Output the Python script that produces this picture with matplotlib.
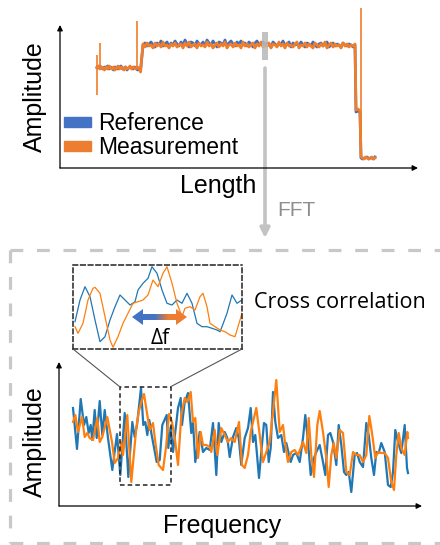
import numpy as np
import matplotlib
matplotlib.use('Agg')
import matplotlib.pyplot as plt
from matplotlib.patches import Rectangle, Polygon, ConnectionPatch, Patch

plt.rcParams['font.family'] = ['Liberation Sans', 'DejaVu Sans']

# ---- top trace (length domain) ----
L1_O = [100,102,99,101,100,98,101,99,102,100,99,101,98,100,102,99,101,100,98,101,99,100,102,99,101,100,99,101,100,96]
L1_B = [101,100,102,100,99,101,100,102,99,101,100,98,101,100,99,101,102,99,100,101,98,100,101,100,99,101,100,98,99,97]
MAIN_O = [124,121,125,122,123,120,125,122,124,121,126,122,123,120,124,122,125,121,123,124,
          120,125,122,126,121,123,124,120,125,122,123,121,126,122,124,120,123,125,121,124,
          122,126,120,123,124,121,125,122,123,120,126,122,124,121,123,125,120,124,122,126,
          121,123,122,125,120,124,123,121,126,122,124,120,125,122,123,121,124,126,120,123,
          122,125,121,124,122,120,125,123,121,124,122,126,120,123,125,121,124,122,123,120,
          125,122,124,121,123,122,124]
MAIN_B = [123,125,122,124,126,123,121,125,123,127,122,124,126,121,125,123,127,124,122,126,
          123,128,124,121,126,125,122,127,124,123,126,122,128,125,123,127,124,121,126,125,
          123,128,122,125,127,124,122,126,124,127,123,125,122,126,124,121,125,127,123,124,
          126,122,125,123,121,126,124,122,125,123,127,122,124,126,121,125,123,124,122,126,
          123,121,125,124,122,126,123,121,124,125,122,124,126,121,123,125,122,124,123,121,
          125,123,122,124,123,121,123]
DROP_X = [296, 298, 300]
DROP_O = [58, 59, 57]
DROP_B = [56, 57, 56]
END_O = [11,10,9,11,10,9,10,11,9,10]
END_B = [10,9,10,10,11,9,10,10,9,11]
SPIKE_LEN = [36.5, 40, 77, 301]
SPIKE_LOW = [73, 101, 100, 10]
SPIKE_HIGH = [113, 125, 147, 160]
WINDOW = (202, 208)

# ---- spectrum (frequency domain) ----
SPEC_BLUE = [(14,98),(18,57),(21.7,107),(25,81),(27.3,89),(29.7,73),(31.7,81),(33.3,66),(35.7,96),(37.7,68),
             (40.7,105),(43.3,71),(45.7,96),(49,68),(53.3,36),(58,72),(61.3,31),(65.7,93),(69.3,29),(73.3,84),
             (75.7,69),(78,81),(82,118),(84.3,81),(86.3,84),(88.3,71),(90.3,86),(92.3,73),(97.7,44),(100.7,46),
             (103.3,81),(107.7,91),(109.3,58),(111.7,79),(114,54),
             (119,98),(121.7,108),(123,81),(125.7,104),(129,113),(132.3,73),(134,84),(136.3,44),(140.7,74),(144,54),
             (147.3,58),(150.7,56),(154,83),(157.3,31),(159.7,83),(162.3,64),(165.7,74),(168.3,68),(170.7,49),(174,69),
             (177.3,78),(179.7,68),(182.3,41),(185.7,68),(189,78),(191.7,98),(194,64),(196.3,71),(200,28),(202.3,54),
             (205,83),(207.3,81),(209.7,44),(211.7,58),(214,114),(216.3,84),(219,68),(222.3,71),(225,54),(227.3,63),
             (231.7,44),(234,51),(237.3,53),(240.7,44),(244,68),(246.3,91),(249,64),(251.7,31),(255,48),(257.3,54),
             (260.7,61),(264,44),(266.3,31),(269,71),(271.3,73),(274,64),(277.3,41),(279.7,81),(282.3,61),(285,34),
             (287.3,31),(289.7,34),(292.3,14),(295.7,51),(298,53),(300.7,44),(304,39),(307.3,83),(309.7,71),(312.3,48),
             (315,31),(317.3,54),(319.7,53),(322.3,63),(325.7,54),(329,21),(331.7,19),(334,34),(336.3,76),(339,64),
             (342.3,53),(345.7,81),(348,38),(349,33)]
SPEC_ORANGE = [(14,84),(16.3,91),(19,74),(23,89),(25.7,69),(28.3,73),(30.7,68),(34,66),(38.3,88),(40.7,64),
               (43.3,69),(48.3,89),(53,64),(55.7,43),(59,48),(62.3,64),(64,51),(68.3,91),(72.3,24),(77.3,78),
               (79.7,94),(82.3,104),(85,112),(88.3,91),(90.7,76),(94,83),(96.3,64),(99.7,41),(104,36),(107.3,61),
               (110,92),(113,84),(116.3,64),
               (119,41),(122.3,91),(125.7,108),(128.3,104),(131.7,114),(134,84),(136.3,88),(139,48),(141.7,74),(144,61),
               (147.3,61),(150.7,59),(152.3,54),(155.7,76),(158.3,51),(162.3,78),(165.7,71),(169,64),(172.3,68),(175.7,64),
               (180,84),(183,41),(185.7,38),(189,51),(191.7,74),(197.3,98),(200.7,71),(204,44),(207.3,54),(210.7,64),
               (214,94),(217.3,126),(220.7,74),(224,81),(225.7,66),(229,44),
               (232.3,54),(235.7,56),(239,51),(244,64),(247.3,53),(249.7,88),(252.3,51),(255,29),(258.3,81),(260.7,95),
               (264,74),(267.3,48),(269.7,19),(272.3,51),(274.7,63),(277.3,48),(280.7,76),(284,73),(287.3,34),(290.7,31),
               (294,54),(297.3,51),(300.7,51),(304,44),(307.3,51),(310.3,90),(313,73),(316.3,48),(319,54),(322.3,53),
               (325.7,53),(329,48),(332.3,24),(335,16),(337.3,51),(339.7,73),(342.3,58),(345.7,51),(348.3,74),(349,68)]
ZOOM_F = (60.7, 111.7)
ZOOM_A = (21, 119.3)

# ---- zoomed cross-correlation view ----
INSET_BLUE = [(5,28.3),(10,50),(15,63.3),(20,53.3),(25,30),(30,8.3),(35,13.3),(40,30),(45,43.3),(50,55),
              (55,50),(60,45),(65,48.3),(68,60),(73,66.7),(78,71.7),(82,83.3),(87,76.7),(92,60),(97,46.7),
              (102,45),(107,50),(112,46.7),(117,56.7),(122,46.7),(127,26.7),(132,23.3),(137,23.3),(142,21.7),
              (147,20),(150,18.3),(152,23.3),(157,36.7),(162,55),(167,46.7),(172,50)]
INSET_ORANGE = [(5,23.3),(8,16.7),(13,26.7),(18,50),(23,61.7),(25,62.7),(30,56.7),(35,33.3),(40,10),(43,2.7),
                (48,13.3),(53,26.7),(58,36.7),(63,46.7),(68,48.3),(73,50),(78,55),(83,70),(88,63.3),(93,76.7),
                (97,83.3),(102,66.7),(107,46.7),(112,33.3),(115,41.7),(120,43.3),(125,40),(130,53.3),(133,56.7),
                (137,43.3),(140,26.7),(145,23.3),(150,20),(155,18.3),(160,15),(165,13.3),(170,30),(172,36.7)]

BLUE_TOP, ORANGE_TOP = '#3f70c2', '#f07d2a'
BLUE, ORANGE = '#1f77b4', '#ff7f0e'

W, H = 440, 545
fig = plt.figure(figsize=(W / 100, H / 100), dpi=100)


def px_axes(x0, y0, x1, y1):
    a = fig.add_axes([x0 / W, 1 - y1 / H, (x1 - x0) / W, (y1 - y0) / H])
    a.patch.set_visible(False)
    return a


def arrow_axes(a):
    for s in a.spines.values():
        s.set_visible(False)
    a.set_xticks([]); a.set_yticks([])
    kw = dict(arrowstyle='-|>', color='black', lw=0.9, mutation_scale=8, shrinkA=0, shrinkB=0)
    a.annotate('', xy=(1, 0), xytext=(0, 0), xycoords='axes fraction', arrowprops=kw)
    a.annotate('', xy=(0, 1), xytext=(0, 0), xycoords='axes fraction', arrowprops=kw)


# overlay for frame, labels and the FFT arrow
ov = px_axes(0, 0, W, H)
ov.set_xlim(0, W); ov.set_ylim(H, 0); ov.axis('off')
dash = dict(color='#c8c8c8', lw=2.3, linestyle=(0, (4, 4.3)), solid_capstyle='butt')
ov.plot([10, 441], [250, 250], **dash)
ov.plot([10, 10], [250, 543], **dash)
ov.plot([10, 441], [543, 543], **dash)
ov.annotate('', xy=(265, 238), xytext=(265, 68),
            arrowprops=dict(arrowstyle='-|>', color='#c3c3c3', lw=2.6, mutation_scale=14, shrinkA=0, shrinkB=0))
ov.text(296, 211, 'FFT', color='#8e8e8e', fontsize=15, ha='center', va='center')
ov.text(35, 97, 'Amplitude', fontsize=18, rotation=90, ha='center', va='center')
ov.text(218, 186, 'Length', fontsize=18, ha='center', va='center')
ov.text(35, 442, 'Amplitude', fontsize=18, rotation=90, ha='center', va='center')
ov.text(222, 526, 'Frequency', fontsize=18, ha='center', va='center')
ov.text(340, 302, 'Cross correlation', fontsize=15.5, ha='center', va='center',
        family=['Open Sans', 'DejaVu Sans'])

# top plot
ax = px_axes(60, 25, 418, 168)
ax.set_xlim(0, 358); ax.set_ylim(0, 143)
arrow_axes(ax)
l1_x = np.linspace(37, 80.5, len(L1_O))
main_x = np.linspace(83, 295, len(MAIN_O))
end_x = np.linspace(301, 315, len(END_O))
x_top = np.concatenate([l1_x, main_x, DROP_X, end_x])
ax.plot(x_top, np.concatenate([L1_B, MAIN_B, DROP_B, END_B]), color=BLUE_TOP, lw=2.0, clip_on=False)
ax.plot(x_top, np.concatenate([L1_O, MAIN_O, DROP_O, END_O]), color=ORANGE_TOP, lw=2.0, clip_on=False)
ax.vlines(SPIKE_LEN, SPIKE_LOW, SPIKE_HIGH, color=ORANGE_TOP, lw=1.2, clip_on=False)
ax.add_patch(Rectangle((WINDOW[0], 108), WINDOW[1] - WINDOW[0], 28, color='#b8b8b8', alpha=0.85, zorder=4, lw=0))
ax.legend(handles=[Patch(color='#4472c4', label='Reference'), Patch(color='#ed7d31', label='Measurement')],
          loc='lower left', bbox_to_anchor=(0.01, 0.06), frameon=False, fontsize=16.5,
          handlelength=1.2, handleheight=0.3, handletextpad=0.3, labelspacing=0.05, borderpad=0, borderaxespad=0)

# bottom spectrum
bx = px_axes(59, 362, 422, 506)
bx.set_xlim(0, 363); bx.set_ylim(0, 144)
arrow_axes(bx)
fb, ab = zip(*SPEC_BLUE)
fo, ao = zip(*SPEC_ORANGE)
bx.plot(fb, ab, color=BLUE, lw=1.6, solid_joinstyle='round')
bx.plot(fo, ao, color=ORANGE, lw=1.6, solid_joinstyle='round')
bx.add_patch(Rectangle((ZOOM_F[0], ZOOM_A[0]), ZOOM_F[1] - ZOOM_F[0], ZOOM_A[1] - ZOOM_A[0],
                       fill=False, ec='#222222', lw=1.1, linestyle=(0, (3, 2)), zorder=5))

# inset
ix = px_axes(73, 265, 242, 349)
ix.set_xticks([]); ix.set_yticks([])
for s in ix.spines.values():
    s.set_linestyle((0, (3, 2))); s.set_linewidth(1.1); s.set_edgecolor('#222222')
xb, yb = zip(*INSET_BLUE)
xo, yo = zip(*INSET_ORANGE)
ix.plot(xb, yb, color=BLUE, lw=0.9)
ix.plot(xo, yo, color=ORANGE, lw=0.9)
poly = Polygon([(62, 33), (73, 41), (73, 36), (106, 36), (106, 41), (117, 33),
                (106, 25), (106, 30), (73, 30), (73, 25)], closed=True, fc='none', ec='none')
ix.add_patch(poly)
t = np.linspace(0, 1, 200)
mix = np.clip((t - 0.4) / 0.25, 0, 1)[:, None]
c_left = np.array([0x44, 0x72, 0xc4]) / 255
c_right = np.array([0xed, 0x7d, 0x31]) / 255
grad = (c_left * (1 - mix) + c_right * mix)[None, :, :]
im = ix.imshow(grad, extent=(62, 117, 25, 41), aspect='auto', zorder=5)
im.set_clip_path(poly)
ix.set_xlim(3, 172); ix.set_ylim(1, 85)
ix.text(90, 11, 'Δf', fontsize=15, ha='center', va='center', family=['Open Sans', 'DejaVu Sans'])

for xa, fz in [(0, ZOOM_F[0]), (1, ZOOM_F[1])]:
    con = ConnectionPatch(xyA=(xa, 0), coordsA=ix.transAxes, xyB=(fz, ZOOM_A[1]), coordsB=bx.transData,
                          color='#555555', lw=0.8)
    fig.add_artist(con)

fig.savefig('out.png', dpi=100)
